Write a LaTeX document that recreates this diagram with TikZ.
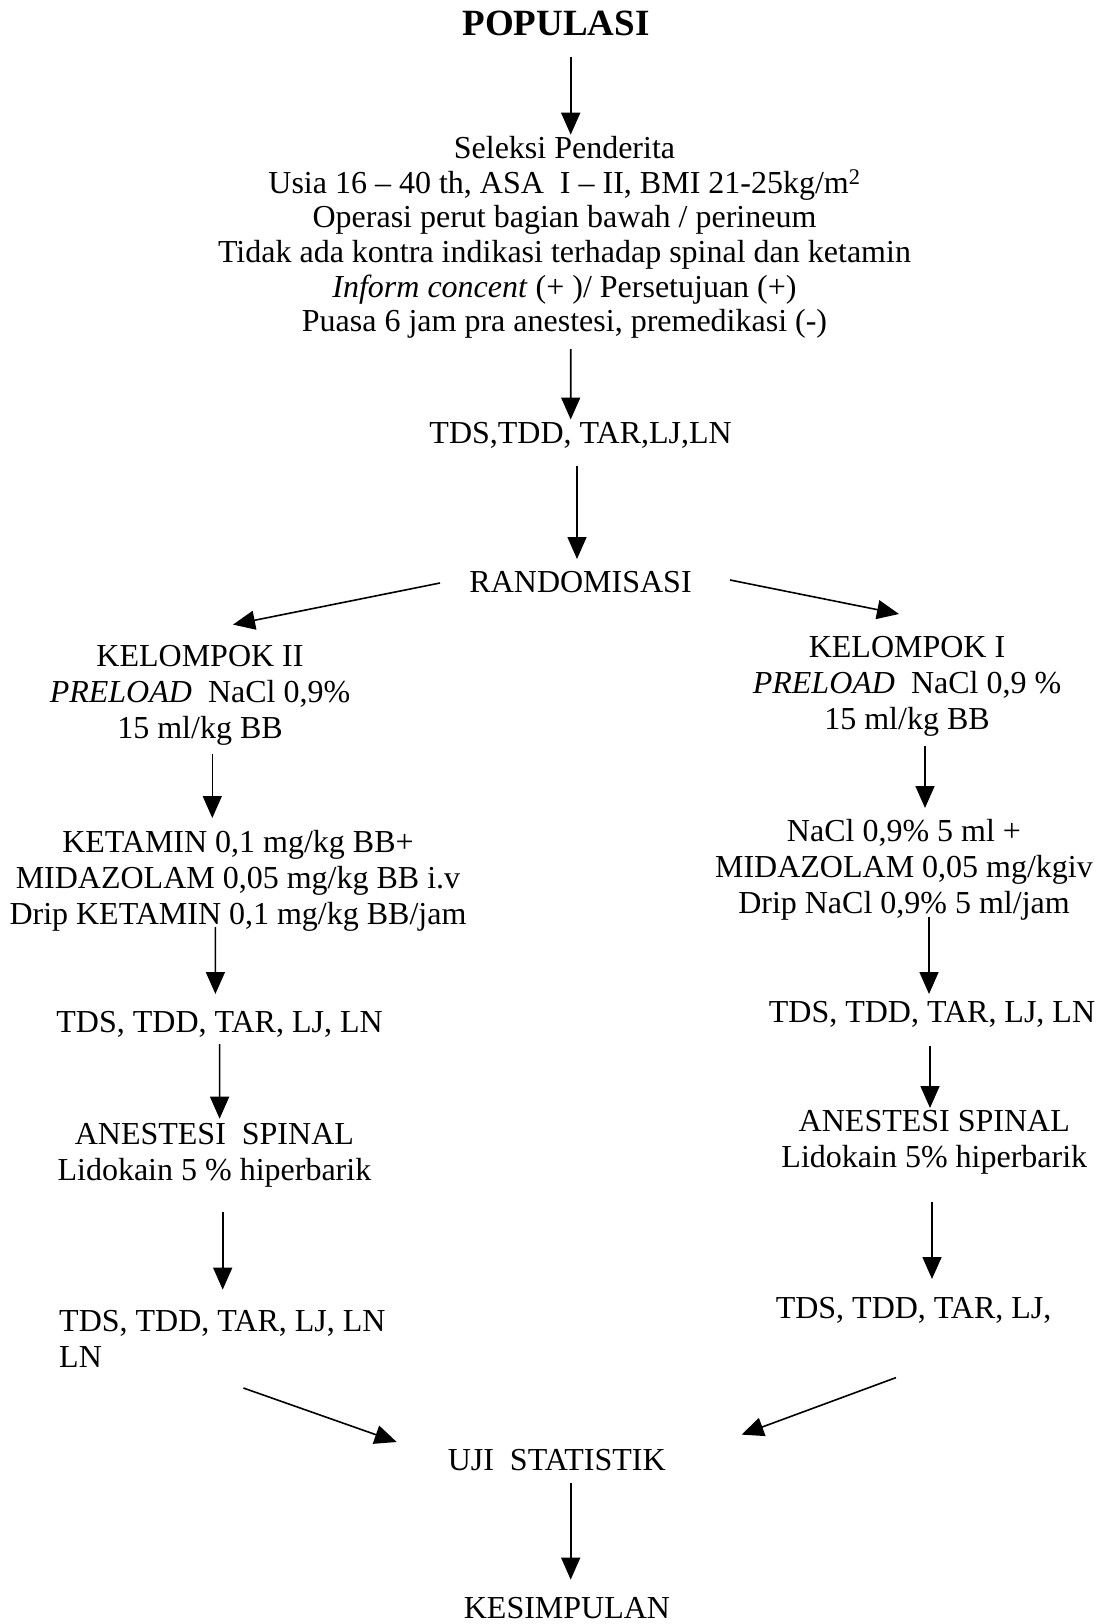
\documentclass[tikz,border=0pt]{standalone}
\usepackage{fontspec}
\setmainfont{Liberation Serif}
\usetikzlibrary{arrows.meta}

\tikzset{
  txt/.style={inner sep=0pt, align=center, font=\fontsize{32}{36}\selectfont},
  arr/.style={-{Triangle[length=22pt,width=19pt]}, line width=1.6pt},
}

\begin{document}
\begin{tikzpicture}[x=1pt,y=-1pt]
  \useasboundingbox (0,0) rectangle (1100,1624);

  % middle column
  \node[txt, font=\fontsize{37}{40}\selectfont\bfseries] (pop) at (556,23) {POPULASI};
  \node[txt, font=\fontsize{32}{34.6}\selectfont] (sel) at (564.5,237.5)
    {Seleksi Penderita\\
     Usia 16 -- 40 th, ASA\ \ I -- II, BMI 21-25kg/m\textsuperscript{2}\\
     Operasi perut bagian bawah / perineum\\
     Tidak ada kontra indikasi terhadap spinal dan ketamin\\
     \textit{Inform concent} (+ )/ Persetujuan (+)\\
     Puasa 6 jam pra anestesi, premedikasi (-)};
  \node[txt] (tds0) at (580.6,435) {TDS,TDD, TAR,LJ,LN};
  \node[txt] (rand) at (580.6,582) {RANDOMISASI};

  % kelompok II (left)
  \node[txt] (k2) at (200,695) {KELOMPOK II\\ \textit{PRELOAD}\ \ NaCl 0,9\%\\ 15 ml/kg BB};
  \node[txt] (ket2) at (238,880.4) {KETAMIN 0,1 mg/kg BB+\\ MIDAZOLAM 0,05 mg/kg BB i.v\\ Drip KETAMIN 0,1 mg/kg BB/jam};
  \node[txt] (tds2) at (219.6,1024.4) {TDS, TDD, TAR, LJ, LN};
  \node[txt] (an2) at (214.4,1155.4) {ANESTESI\ \ SPINAL\\ Lidokain 5 \% hiperbarik};
  \node[txt, align=left, anchor=west] (tds2b) at (59,1339.3) {TDS, TDD, TAR, LJ, LN\\ LN};

  % kelompok I (right)
  \node[txt] (k1) at (907,686.7) {KELOMPOK I\\ \textit{PRELOAD}\ \ NaCl 0,9 \%\\ 15 ml/kg BB};
  \node[txt] (mid1) at (904,870) {NaCl 0,9\% 5 ml +\\ MIDAZOLAM 0,05 mg/kgiv\\ Drip NaCl 0,9\% 5 ml/jam};
  \node[txt] (tds1) at (932,1014) {TDS, TDD, TAR, LJ, LN};
  \node[txt] (an1) at (934.3,1142.5) {ANESTESI SPINAL\\ Lidokain 5\% hiperbarik};
  \node[txt] (tds1b) at (913.6,1310.3) {TDS, TDD, TAR, LJ,};

  \node[txt] (uji) at (556.7,1460.5) {UJI\ \ STATISTIK};
  \node[txt] (kes) at (567,1607.6) {KESIMPULAN};

  \draw[arr] ([shift={(14.7,34)}]pop.center) -- ([shift={(6.2,-102.8)}]sel.center); %% pop->sel
  \draw[arr] ([shift={(6.2,111.5)}]sel.center) -- ([shift={(-9.9,-15.5)}]tds0.center); %% sel->tds0
  \draw[arr] ([shift={(-3.6,31)}]tds0.center) -- ([shift={(-3.6,-23)}]rand.center); %% tds0->rand
  \draw[arr] ([shift={(-140.6,1)}]rand.center) -- ([shift={(33,-70.4)}]k2.center); %% rand->k2
  \draw[arr] ([shift={(149.4,-2)}]rand.center) -- ([shift={(-8,-72.7)}]k1.center); %% rand->k1

  \draw[arr] ([shift={(12.3,59)}]k2.center) -- ([shift={(-25.7,-62.4)}]ket2.center); %% k2->ket2
  \draw[arr] ([shift={(-22.6,46.6)}]ket2.center) -- ([shift={(-4.2,-30.4)}]tds2.center); %% ket2->tds2
  \draw[arr] ([shift={(0,19.6)}]tds2.center) -- ([shift={(5.2,-36.7)}]an2.center); %% tds2->an2
  \draw[arr] ([shift={(8.3,56.6)}]an2.center) -- ([shift={(163.7,-49.7)}]tds2b.west); %% an2->tds2b

  \draw[arr] ([shift={(18,59.3)}]k1.center) -- ([shift={(21,-62)}]mid1.center); %% k1->mid1
  \draw[arr] ([shift={(25,47)}]mid1.center) -- ([shift={(-3,-20)}]tds1.center); %% mid1->tds1
  \draw[arr] ([shift={(-2,32)}]tds1.center) -- ([shift={(-4.3,-34.5)}]an1.center); %% tds1->an1
  \draw[arr] ([shift={(-2.3,59)}]an1.center) -- ([shift={(18.4,-31.3)}]tds1b.center); %% an1->tds1b

  \draw[arr] ([shift={(184.4,48.7)}]tds2b.west) -- ([shift={(-160,-18.5)}]uji.center); %% tds2b->uji
  \draw[arr] ([shift={(-17.6,67.3)}]tds1b.center) -- ([shift={(184.9,-25.9)}]uji.center); %% tds1b->uji
  \draw[arr] ([shift={(14,22.5)}]uji.center) -- ([shift={(3.7,-28)}]kes.center); %% uji->kes
\end{tikzpicture}
\end{document}
